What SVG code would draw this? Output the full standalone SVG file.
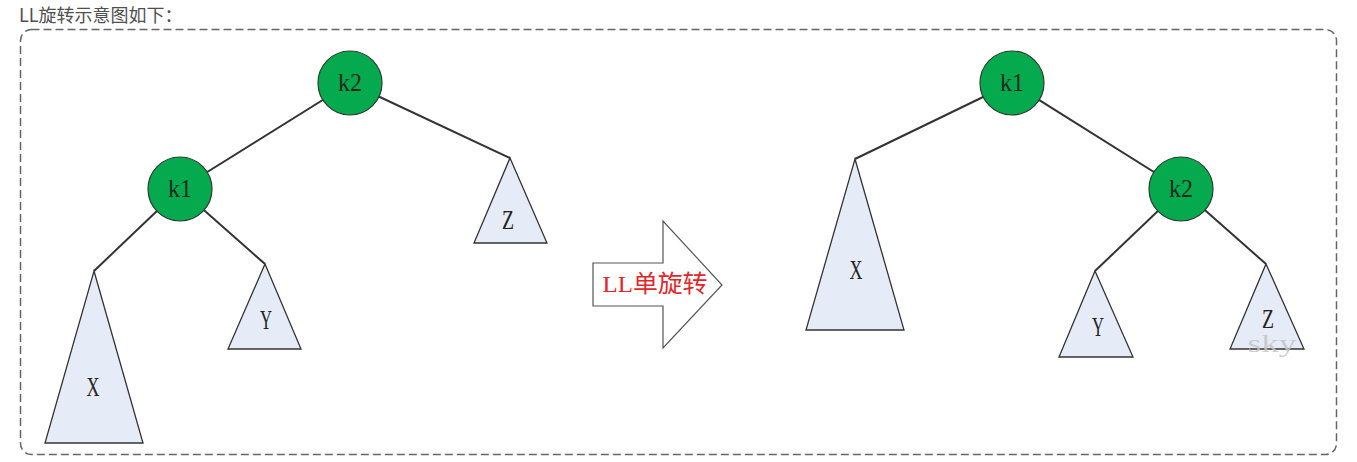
<svg xmlns="http://www.w3.org/2000/svg" width="1357" height="462" viewBox="0 0 1357 462">
<style>
.edge{stroke:#333;stroke-width:2;fill:none}
.node{fill:#05a94e;stroke:#2e3b30;stroke-width:1.2}
.tri{fill:#e6ecf7;stroke:#333;stroke-width:1.3}
.nl{font-family:"Liberation Serif",serif;font-size:26px;fill:#1a2a1c;text-anchor:middle}
.tl{font-family:"Liberation Serif",serif;font-size:27px;fill:#222;text-anchor:middle}
</style>
<rect width="1357" height="462" fill="#fff"/>
<text x="19" y="22" font-family="'Noto Sans CJK SC',sans-serif" font-size="18" fill="#4f4f4f">LL旋转示意图如下：</text>
<rect x="20.5" y="29.5" width="1316" height="425" rx="11" fill="none" stroke="#666" stroke-width="1.5" stroke-dasharray="8 4"/>
<g id="connectors">
<line class="edge" x1="350" y1="83" x2="180" y2="189"/>
<line class="edge" x1="350" y1="83" x2="510" y2="158"/>
<line class="edge" x1="180" y1="189" x2="94" y2="271"/>
<line class="edge" x1="180" y1="189" x2="265" y2="264"/>
<line class="edge" x1="1012" y1="83" x2="855" y2="159"/>
<line class="edge" x1="1012" y1="83" x2="1181" y2="189"/>
<line class="edge" x1="1181" y1="189" x2="1095" y2="271"/>
<line class="edge" x1="1181" y1="189" x2="1266" y2="264"/>
</g>
<g id="L_k2"><circle class="node" cx="350" cy="83" r="32"/><text class="nl" x="350" y="91" textLength="24" lengthAdjust="spacingAndGlyphs">k2</text></g>
<g id="L_k1"><circle class="node" cx="180" cy="189" r="32"/><text class="nl" x="180" y="197" textLength="24" lengthAdjust="spacingAndGlyphs">k1</text></g>
<g id="L_Z"><polygon class="tri" points="510,158 547,243 474,243"/><text class="tl" x="508" y="229" textLength="12" lengthAdjust="spacingAndGlyphs">Z</text></g>
<g id="L_X"><polygon class="tri" points="94,271 143,443 45,443"/><text class="tl" x="93" y="396" textLength="13" lengthAdjust="spacingAndGlyphs">X</text></g>
<g id="L_Y"><polygon class="tri" points="265,264 301,349 228,349"/><text class="tl" x="266" y="329" textLength="12" lengthAdjust="spacingAndGlyphs">Y</text></g>
<g id="arrow">
<polygon points="593,263 663,263 663,221 722,285 663,348 663,306 593,306" fill="#fff" stroke="#555" stroke-width="1.2"/>
<text x="655" y="292" font-family="'Liberation Serif','Noto Sans CJK SC',serif" font-size="24" fill="#e3262b" text-anchor="middle" textLength="105" lengthAdjust="spacingAndGlyphs">LL单旋转</text>
</g>
<g id="R_k1"><circle class="node" cx="1012" cy="83" r="32"/><text class="nl" x="1012" y="91" textLength="24" lengthAdjust="spacingAndGlyphs">k1</text></g>
<g id="R_k2"><circle class="node" cx="1181" cy="189" r="32"/><text class="nl" x="1181" y="197" textLength="24" lengthAdjust="spacingAndGlyphs">k2</text></g>
<g id="R_X"><polygon class="tri" points="855,159 904,330 806,330"/><text class="tl" x="856" y="279" textLength="13" lengthAdjust="spacingAndGlyphs">X</text></g>
<g id="R_Y"><polygon class="tri" points="1095,271 1133,357 1059,357"/><text class="tl" x="1098" y="336" textLength="12" lengthAdjust="spacingAndGlyphs">Y</text></g>
<g id="R_Z"><polygon class="tri" points="1266,264 1304,349 1230,349"/><text class="tl" x="1268" y="328" textLength="12" lengthAdjust="spacingAndGlyphs">Z</text></g>
<text x="1272" y="352" font-family="'Liberation Serif',serif" font-size="26" fill="#c4c4c4" fill-opacity="0.85" text-anchor="middle" textLength="49" lengthAdjust="spacingAndGlyphs">sky</text>
</svg>
